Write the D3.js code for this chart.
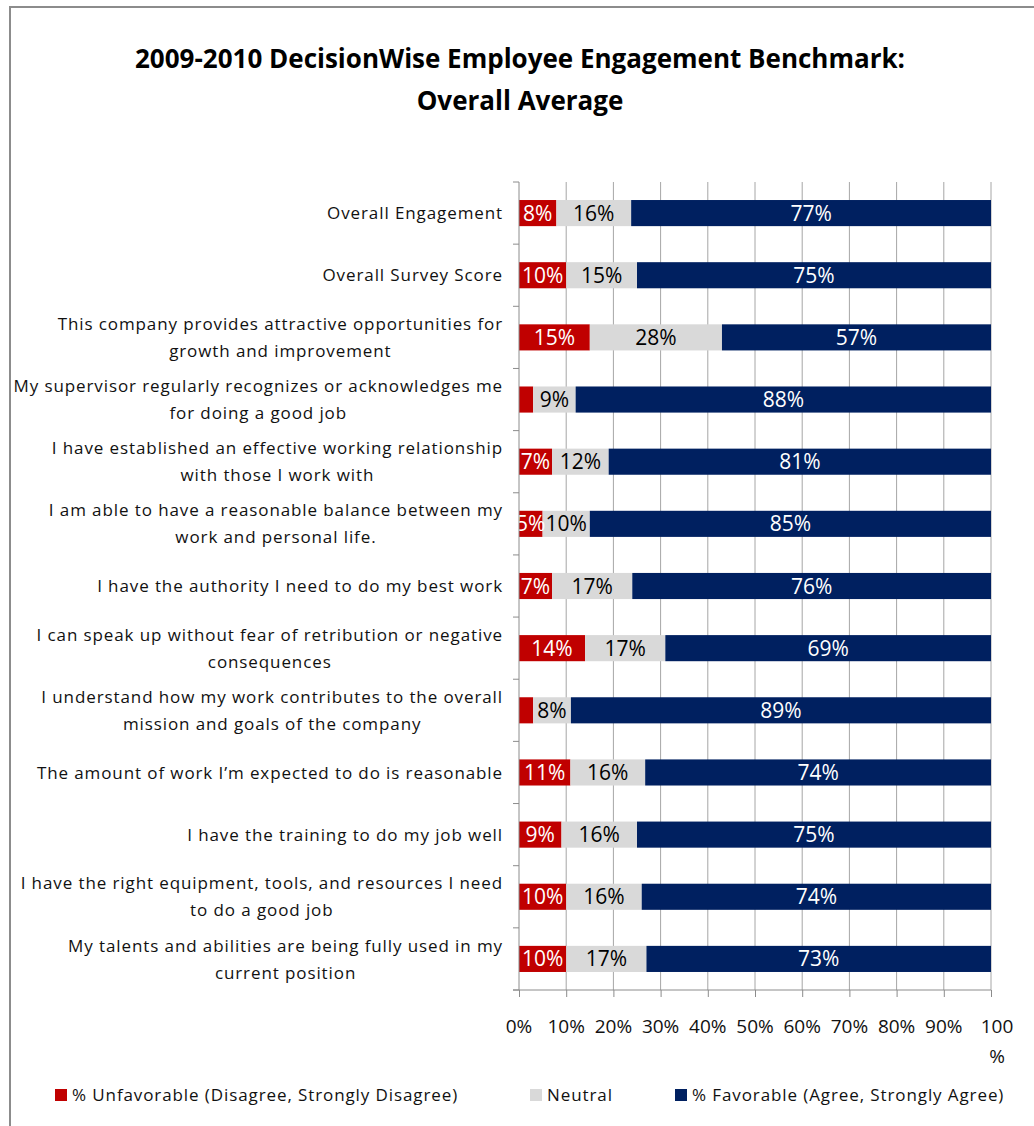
<!DOCTYPE html>
<html>
<head>
<meta charset="utf-8">
<script src="https://cdn.jsdelivr.net/npm/d3@7"></script>
<style>
  body { margin: 0; background: #fff; }
  svg { display: block; font-family: "Open Sans", sans-serif; }
</style>
</head>
<body>
<div id="chart"></div>
<script>
// survey statements, top to bottom; "\n" marks the wrap used in the original
const categories = [
  "Overall Engagement",
  "Overall Survey Score",
  "This company provides attractive opportunities for\ngrowth and improvement",
  "My supervisor regularly recognizes or acknowledges me\nfor doing a good job",
  "I have established an effective working relationship\nwith those I work with",
  "I am able to have a reasonable balance between my\nwork and personal life.",
  "I have the authority I need to do my best work",
  "I can speak up without fear of retribution or negative\nconsequences",
  "I understand how my work contributes to the overall\nmission and goals of the company",
  "The amount of work I\u2019m expected to do is reasonable",
  "I have the training to do my job well",
  "I have the right equipment, tools, and resources I need\nto do a good job",
  "My talents and abilities are being fully used in my\ncurrent position"
];
const unfavorable = [8, 10, 15, 3, 7, 5, 7, 14, 3, 11, 9, 10, 10];
const neutral     = [16, 15, 28, 9, 12, 10, 17, 17, 8, 16, 16, 16, 17];
const favorable   = [77, 75, 57, 88, 81, 85, 76, 69, 89, 74, 75, 74, 73];
const seriesNames = ["% Unfavorable (Disagree, Strongly Disagree)", "Neutral", "% Favorable (Agree, Strongly Agree)"];
const xTicks = [0, 0.1, 0.2, 0.3, 0.4, 0.5, 0.6, 0.7, 0.8, 0.9, 1];

const W = 1034, H = 1126;
const margin = {top: 182, left: 519, right: 43, bottom: 136};
const colors = ["#C00000", "#D9D9D9", "#002060"];
const labelColors = ["#fff", "#000", "#fff"];
const keys = ["u", "n", "f"];

const rows = categories.map((c, i) => ({cat: c, u: unfavorable[i], n: neutral[i], f: favorable[i]}));

const svg = d3.select("#chart").append("svg")
    .attr("width", W)
    .attr("height", H);

// chart area frame
svg.append("rect")
    .attr("x", 10).attr("y", 7)
    .attr("width", W + 20).attr("height", H + 20)
    .attr("fill", "none")
    .attr("stroke", "#8c8c8c")
    .attr("stroke-width", 2);

svg.append("text")
    .attr("x", 520).attr("y", 68)
    .attr("text-anchor", "middle")
    .attr("font-size", 26).attr("font-weight", "bold")
    .text("2009-2010 DecisionWise Employee Engagement Benchmark:");
svg.append("text")
    .attr("x", 520).attr("y", 110)
    .attr("text-anchor", "middle")
    .attr("font-size", 26).attr("font-weight", "bold")
    .text("Overall Average");

const x = d3.scaleLinear()
    .domain([0, 1])
    .range([margin.left, W - margin.right]);
const y = d3.scaleBand()
    .domain(categories)
    .range([margin.top, H - margin.bottom])
    .paddingInner(0.58)
    .paddingOuter(0.29);

const stack = d3.stack().keys(keys).offset(d3.stackOffsetExpand);
const series = stack(rows);

// vertical gridlines
svg.append("g")
    .selectAll("line")
    .data(xTicks.slice(1))
    .join("line")
    .attr("x1", d => x(d)).attr("x2", d => x(d))
    .attr("y1", margin.top).attr("y2", H - margin.bottom)
    .attr("stroke", "#a6a6a6");

const groups = svg.append("g")
    .selectAll("g")
    .data(series)
    .join("g")
    .attr("fill", (d, i) => colors[i]);

groups.selectAll("rect")
    .data(d => d)
    .join("rect")
    .attr("x", d => x(d[0]))
    .attr("width", d => x(d[1]) - x(d[0]))
    .attr("y", d => y(d.data.cat))
    .attr("height", y.bandwidth());

// value labels inside segments
series.forEach((s, i) => {
    svg.append("g")
        .selectAll("text")
        .data(s.filter(d => d.data[s.key] >= 5))
        .join("text")
        .attr("x", d => (x(d[0]) + x(d[1])) / 2)
        .attr("y", d => y(d.data.cat) + y.bandwidth() / 2)
        .attr("dy", "0.36em")
        .attr("text-anchor", "middle")
        .attr("font-size", 21)
        .attr("fill", labelColors[i])
        .text(d => d.data[s.key] + "%");
});

// y axis line and category ticks
const yAxis = svg.append("g");
yAxis.append("line")
    .attr("x1", margin.left).attr("x2", margin.left)
    .attr("y1", margin.top).attr("y2", H - margin.bottom)
    .attr("stroke", "#8c8c8c");
const step = (H - margin.bottom - margin.top) / categories.length;
yAxis.selectAll(".tk")
    .data(d3.range(categories.length + 1))
    .join("line")
    .attr("class", "tk")
    .attr("x1", margin.left - 6).attr("x2", margin.left)
    .attr("y1", d => margin.top + d * step).attr("y2", d => margin.top + d * step)
    .attr("stroke", "#8c8c8c");

// category labels: block right aligned, lines centred within block
const labelRight = 503;
categories.forEach(c => {
    const lines = c.split("\n");
    const cy = y(c) + y.bandwidth() / 2;
    const g = svg.append("g");
    const texts = g.selectAll("text")
        .data(lines)
        .join("text")
        .attr("font-size", 17)
        .attr("letter-spacing", 0.9)
        .attr("fill", "#111")
        .attr("text-anchor", "middle")
        .attr("y", (d, i) => cy + (i - (lines.length - 1) / 2) * 27)
        .attr("dy", "0.36em")
        .text(d => d);
    let maxW = 0;
    texts.each(function() { maxW = Math.max(maxW, this.getComputedTextLength()); });
    texts.attr("x", labelRight - maxW / 2);
});

// x axis
const xAxis = svg.append("g")
    .attr("transform", `translate(0,${H - margin.bottom})`)
    .call(d3.axisBottom(x).tickValues(xTicks).tickSize(7).tickFormat(""));
xAxis.select(".domain").attr("stroke", "#8c8c8c").attr("d", `M${margin.left - 6},0H${W - margin.right}`);
xAxis.selectAll(".tick line").attr("stroke", "#8c8c8c");

svg.append("g")
    .selectAll("text")
    .data(xTicks.slice(0, -1))
    .join("text")
    .attr("x", d => x(d))
    .attr("y", H - margin.bottom + 43)
    .attr("text-anchor", "middle")
    .attr("font-size", 19)
    .attr("fill", "#111")
    .text(d => d3.format(".0%")(d));
const last = svg.append("text")
    .attr("x", x(1) + 6)
    .attr("y", H - margin.bottom + 43)
    .attr("text-anchor", "middle")
    .attr("font-size", 19)
    .attr("fill", "#111");
last.append("tspan").attr("x", x(1) + 6).text("100");
last.append("tspan").attr("x", x(1) + 6).attr("dy", 30).text("%");

// legend
const legendX = [55, 530, 675];
const legend = svg.append("g")
    .selectAll("g")
    .data(seriesNames)
    .join("g")
    .attr("transform", (d, i) => `translate(${legendX[i]},1095)`);
legend.append("rect")
    .attr("x", 0).attr("y", -6)
    .attr("width", 12).attr("height", 12)
    .attr("fill", (d, i) => colors[i]);
legend.append("text")
    .attr("x", 17)
    .attr("dy", "0.36em")
    .attr("font-size", 17)
    .attr("letter-spacing", 0.9)
    .attr("fill", "#111")
    .text(d => d);
</script>
</body>
</html>
